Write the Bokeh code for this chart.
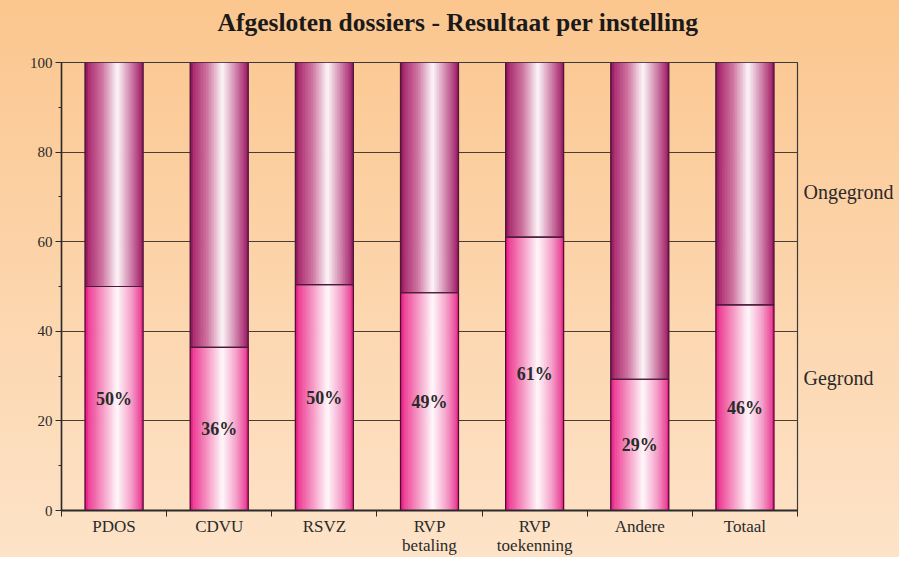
from bokeh.plotting import figure
from bokeh.models import ColumnDataSource, Range1d, FixedTicker, SingleIntervalTicker, LinearAxis
from bokeh.core.properties import value
from bokeh.embed import file_html
from bokeh.resources import INLINE

# ---- data ----
categories = ["PDOS", "CDVU", "RSVZ", "RVP\nbetaling", "RVP\ntoekenning", "Andere", "Totaal"]
gegrond = [50.0, 36.4, 50.4, 48.6, 61.0, 29.3, 45.9]
ongegrond = [100 - g for g in gegrond]
pct_labels = ["50%", "36%", "50%", "49%", "61%", "29%", "46%"]
y_ticks_interval = 20
series_names = ["Ongegrond", "Gegrond"]
series_label_y = [71.2, 29.5]

SERIF = "Liberation Serif"
BAR_W = 0.552
N_STRIPS = 36

lower_stops = [(0.0, (226, 10, 126)), (0.07, (238, 66, 152)), (0.3, (245, 150, 195)),
               (0.56, (255, 248, 251)), (0.8, (245, 160, 202)), (0.96, (234, 74, 156)),
               (1.0, (220, 20, 124))]
upper_stops = [(0.0, (126, 12, 78)), (0.07, (172, 46, 114)), (0.3, (206, 116, 160)),
               (0.56, (252, 246, 249)), (0.8, (206, 126, 168)), (0.96, (168, 46, 114)),
               (1.0, (136, 18, 86))]


def grad(stops, t):
    for (t0, c0), (t1, c1) in zip(stops[:-1], stops[1:]):
        if t0 <= t <= t1:
            f = (t - t0) / (t1 - t0) if t1 > t0 else 0
            return "#%02x%02x%02x" % tuple(int(round(a + (b - a) * f)) for a, b in zip(c0, c1))
    return "#%02x%02x%02x" % stops[-1][1]


n = len(categories)
centers = [i + 0.5 for i in range(n)]

# strips for gradient fill
sx, sw, sb, st, sc = [], [], [], [], []
for i in range(n):
    for (bot, top, stops) in [(0, gegrond[i], lower_stops), (gegrond[i], 100, upper_stops)]:
        for j in range(N_STRIPS):
            t = (j + 0.5) / N_STRIPS
            sx.append(centers[i] - BAR_W / 2 + t * BAR_W)
            sw.append(BAR_W / N_STRIPS * 1.4)
            sb.append(bot)
            st.append(top)
            sc.append(grad(stops, t))
strips = ColumnDataSource(dict(x=sx, w=sw, b=sb, t=st, c=sc))

bars = ColumnDataSource(dict(x=centers, g=gegrond, top=[100] * n,
                             ly=[g / 2 for g in gegrond], lab=pct_labels))

p = figure(width=899, height=557, output_backend="svg", toolbar_location=None,
           x_range=Range1d(0, n), y_range=Range1d(0, 100),
           min_border_left=61, min_border_right=102, min_border_top=62, min_border_bottom=44)
p.styles = {"background-image": "linear-gradient(to bottom, #fbc68e 0%, #fcd3a8 45%, #fde3c8 100%)"}
p.background_fill_alpha = 0
p.border_fill_alpha = 0
p.outline_line_color = "#3a3a3a"
p.outline_line_width = 1.2

p.title.text = "Afgesloten dossiers - Resultaat per instelling"
p.title.align = "left"
p.title.offset = 156
p.title.vertical_align = "bottom"
p.title.standoff = 0
p.title.text_font = SERIF
p.title.text_font_size = "25.5px"
p.title.text_font_style = "bold"
p.title.text_color = "#1a1a1a"

xax = p.below[0]
yax = p.left[0]

# invisible spacer between title and frame
spacer = LinearAxis(ticker=FixedTicker(ticks=[0]), major_label_overrides={0: " "})
spacer.axis_line_color = None
spacer.major_tick_line_color = None
spacer.minor_tick_line_color = None
spacer.major_tick_in = 0
spacer.major_tick_out = 22
spacer.minor_tick_out = 0
spacer.major_label_standoff = 0
spacer.major_label_text_font_size = "1px"
p.add_layout(spacer, "above")

p.vbar(x="x", width="w", bottom="b", top="t", source=strips, fill_color="c", line_color=None)
p.vbar(x="x", width=BAR_W, bottom=0, top="g", source=bars, fill_color=None,
       line_color="#4a1030", line_width=1.2)
p.vbar(x="x", width=BAR_W, bottom="g", top="top", source=bars, fill_color=None,
       line_color="#4a1a3a", line_width=1.2)

p.text(x="x", y="ly", text="lab", source=bars, text_align="center", text_baseline="middle",
       text_font=value(SERIF), text_font_style="bold", text_font_size="18px", text_color="#2a2a2a")

# right-side series names
rax = LinearAxis(ticker=FixedTicker(ticks=series_label_y),
                 major_label_overrides={v: s for v, s in zip(series_label_y, series_names)})
rax.axis_line_color = None
rax.major_tick_line_color = None
rax.minor_tick_line_color = None
rax.major_tick_in = 0
rax.major_tick_out = 0
rax.major_label_standoff = 6
rax.major_label_text_font = SERIF
rax.major_label_text_font_size = "20px"
rax.major_label_text_color = "#2a2a2a"
p.add_layout(rax, "right")

# y axis
yax.ticker = SingleIntervalTicker(interval=y_ticks_interval, num_minor_ticks=2)
yax.axis_line_color = "#2a2a2a"
yax.axis_line_width = 1.5
yax.major_tick_line_color = "#2a2a2a"
yax.minor_tick_line_color = "#2a2a2a"
yax.major_tick_in = 0
yax.major_tick_out = 6
yax.minor_tick_in = 0
yax.minor_tick_out = 3
yax.major_label_standoff = 3
yax.major_label_text_font = SERIF
yax.major_label_text_font_size = "15px"
yax.major_label_text_color = "#2a2a2a"

# x axis
xax.ticker = FixedTicker(ticks=centers, minor_ticks=list(range(n + 1)))
xax.major_label_overrides = {c: lab for c, lab in zip(centers, categories)}
xax.axis_line_color = "#2a2a2a"
xax.axis_line_width = 2
xax.major_tick_in = 0
xax.major_tick_out = 0
xax.minor_tick_in = 0
xax.minor_tick_out = 6
xax.minor_tick_line_color = "#2a2a2a"
xax.major_label_standoff = 0
xax.major_label_text_font = SERIF
xax.major_label_text_font_size = "17px"
xax.major_label_text_color = "#2a2a2a"
xax.major_label_text_line_height = 1.0

p.xgrid.grid_line_color = None
p.ygrid.grid_line_color = "#4a3d35"
p.ygrid.grid_line_width = 1
p.ygrid.ticker = SingleIntervalTicker(interval=y_ticks_interval)

open("out.html", "w").write(file_html(p, INLINE))
